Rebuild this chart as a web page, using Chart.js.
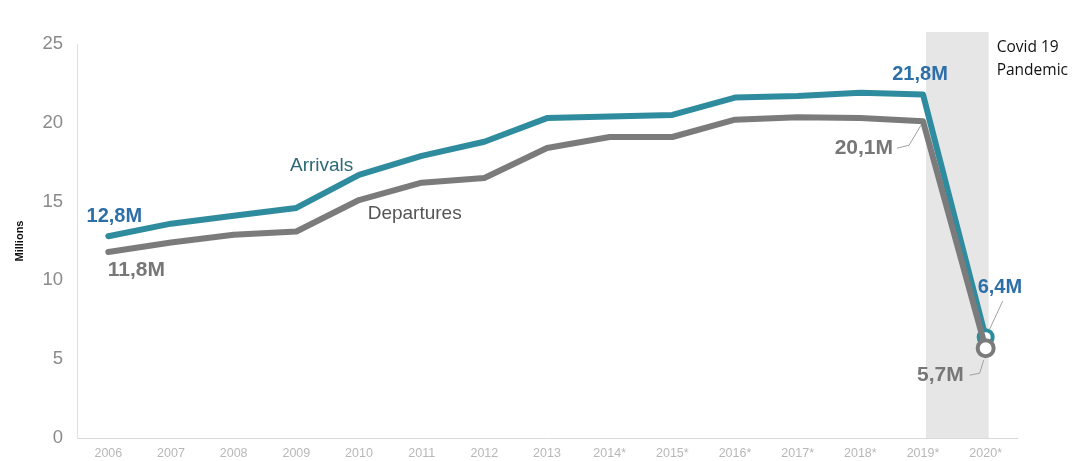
<!DOCTYPE html>
<html>
<head>
<meta charset="utf-8">
<script src="https://cdn.jsdelivr.net/npm/chart.js@4"></script>
<style>
  html, body { margin: 0; padding: 0; background: #fff; }
  #wrap { position: relative; width: 1072px; height: 461px; }
</style>
</head>
<body>
<div id="wrap"><canvas id="chart" width="1072" height="461"></canvas></div>
<script>
// ─── Data ────────────────────────────────────────────────────────────

const YEARS = ['2006', '2007', '2008', '2009', '2010', '2011', '2012', '2013',
  '2014*', '2015*', '2016*', '2017*', '2018*', '2019*', '2020*'];
const ARRIVALS = [12.8, 13.6, 14.1, 14.6, 16.7, 17.9, 18.8, 20.3, 20.4, 20.5, 21.6, 21.7, 21.9, 21.8, 6.4];
const DEPARTURES = [11.8, 12.4, 12.9, 13.1, 15.1, 16.2, 16.5, 18.4, 19.1, 19.1, 20.2, 20.35, 20.3, 20.1, 5.7];
const Y_TICKS = [0, 5, 10, 15, 20, 25];
const PANDEMIC_FROM = 13;   // index of 2019*
const PANDEMIC_TO = 14;     // index of 2020*

const TEAL = '#2f8c9e';
const GREY = '#7b7b7b';
const BLUE_TXT = '#2d6fa7';
const GREY_TXT = '#777777';
const SANS = '"Liberation Sans", Arial, sans-serif';

const fmtM = v => v.toFixed(1).replace('.', ',') + 'M';

// ─── Plugins ─────────────────────────────────────────────────────────

const pandemicBand = {
  id: 'pandemicBand',
  beforeDatasetsDraw(chart) {
    const { ctx, chartArea, scales } = chart;
    const x0 = scales.x.getPixelForValue(PANDEMIC_FROM);
    const x1 = scales.x.getPixelForValue(PANDEMIC_TO);
    const top = scales.y.getPixelForValue(25) - 12;
    ctx.save();
    ctx.fillStyle = '#e6e6e6';
    ctx.fillRect(x0 + 3, top, x1 - x0, chartArea.bottom - top);
    ctx.fillStyle = '#111';
    ctx.font = '15.5px "Open Sans", sans-serif';
    ctx.textAlign = 'left';
    ctx.textBaseline = 'middle';
    ctx.fillText('Covid 19', x1 + 11, top + 16);
    ctx.fillText('Pandemic', x1 + 11, top + 39);
    ctx.restore();
  }
};

function txt(ctx, s, x, y, color, font, align) {
  ctx.fillStyle = color;
  ctx.font = font;
  ctx.textAlign = align || 'center';
  ctx.textBaseline = 'middle';
  ctx.fillText(s, x, y);
}

function leader(ctx, pts) {
  ctx.beginPath();
  ctx.strokeStyle = '#a0a0a0';
  ctx.lineWidth = 1;
  pts.forEach(([x, y], i) => (i ? ctx.lineTo(x, y) : ctx.moveTo(x, y)));
  ctx.stroke();
}

const valueLabels = {
  id: 'valueLabels',
  afterDatasetsDraw(chart) {
    const { ctx, scales } = chart;
    const X = i => scales.x.getPixelForValue(i);
    const Y = v => scales.y.getPixelForValue(v);
    const last = YEARS.length - 1;
    const blue = 'bold 20px ' + SANS;
    const grey = 'bold 21px ' + SANS;
    ctx.save();

    // first year
    txt(ctx, fmtM(ARRIVALS[0]), X(0) + 6, Y(ARRIVALS[0]) - 20, BLUE_TXT, blue);
    txt(ctx, fmtM(DEPARTURES[0]), X(0) + 28, Y(DEPARTURES[0]) + 18, GREY_TXT, grey);

    // 2019
    txt(ctx, fmtM(ARRIVALS[PANDEMIC_FROM]), X(PANDEMIC_FROM) - 3, Y(ARRIVALS[PANDEMIC_FROM]) - 20, BLUE_TXT, blue);
    const dx = X(PANDEMIC_FROM), dy = Y(DEPARTURES[PANDEMIC_FROM]);
    txt(ctx, fmtM(DEPARTURES[PANDEMIC_FROM]), dx - 30, dy + 27, GREY_TXT, grey, 'right');
    leader(ctx, [[dx - 26, dy + 27], [dx - 14, dy + 24], [dx - 2, dy + 4]]);

    // 2020
    const ex = X(last), ay = Y(ARRIVALS[last]), gy = Y(DEPARTURES[last]);
    txt(ctx, fmtM(ARRIVALS[last]), ex - 8, ay - 50, BLUE_TXT, blue, 'left');
    leader(ctx, [[ex + 17, ay - 36], [ex + 4, ay - 8]]);
    txt(ctx, fmtM(DEPARTURES[last]), ex - 22, gy + 27, GREY_TXT, grey, 'right');
    leader(ctx, [[ex - 16, gy + 27], [ex - 6, gy + 25], [ex - 2, gy + 12]]);

    // series names
    txt(ctx, 'Arrivals', (X(3) + X(4)) / 2 - 6, Y(17.3), '#2c6878', '19px ' + SANS);
    txt(ctx, 'Departures', X(5) - 7, Y(14.2), '#555555', '19px ' + SANS);

    ctx.restore();
  }
};

// ─── Chart ───────────────────────────────────────────────────────────

function endOnly(radius) {
  return c => (c.dataIndex === YEARS.length - 1 ? radius : 0);
}

new Chart(document.getElementById('chart').getContext('2d'), {
  type: 'line',
  data: {
    labels: YEARS,
    datasets: [
      {
        label: 'Departures',
        data: DEPARTURES,
        borderColor: GREY,
        borderWidth: 6,
        pointRadius: endOnly(8),
        pointBorderWidth: 4,
        pointBackgroundColor: '#fff',
        pointBorderColor: GREY,
        tension: 0,
        borderJoinStyle: 'round',
        borderCapStyle: 'round',
      },
      {
        label: 'Arrivals',
        data: ARRIVALS,
        borderColor: TEAL,
        borderWidth: 6,
        pointRadius: endOnly(7),
        pointBorderWidth: 4,
        pointBackgroundColor: '#fff',
        pointBorderColor: TEAL,
        tension: 0,
        borderJoinStyle: 'round',
        borderCapStyle: 'round',
      },
    ],
  },
  options: {
    responsive: false,
    animation: false,
    layout: { padding: { top: 44, right: 55, left: 0, bottom: 0 } },
    plugins: {
      legend: { display: false },
      tooltip: { enabled: false },
    },
    scales: {
      x: {
        offset: true,
        grid: { display: false, drawTicks: false },
        border: { display: true, color: '#d9d9d9', width: 1 },
        ticks: { color: '#b8b8b8', font: { size: 12.5, family: SANS }, padding: 8, maxRotation: 0, autoSkip: false },
        afterFit(s) { s.height = 23; },
      },
      y: {
        min: 0,
        max: 25,
        afterBuildTicks(s) { s.ticks = Y_TICKS.map(v => ({ value: v })); },
        grid: { display: false, drawTicks: false },
        border: { display: true, color: '#e0e0e0', width: 1 },
        ticks: { color: '#8a8a8a', font: { size: 18.5, family: SANS }, padding: 14 },
        title: { display: true, text: 'Millions', color: '#111', font: { size: 11, weight: 'bold', family: SANS }, padding: { top: 13, bottom: 0 } },
        afterFit(s) {
          s.width = 77;
          s.paddingTop = 0;
          s.paddingBottom = 0;
        },
      },
    },
  },
  plugins: [pandemicBand, valueLabels],
});
</script>
</body>
</html>
